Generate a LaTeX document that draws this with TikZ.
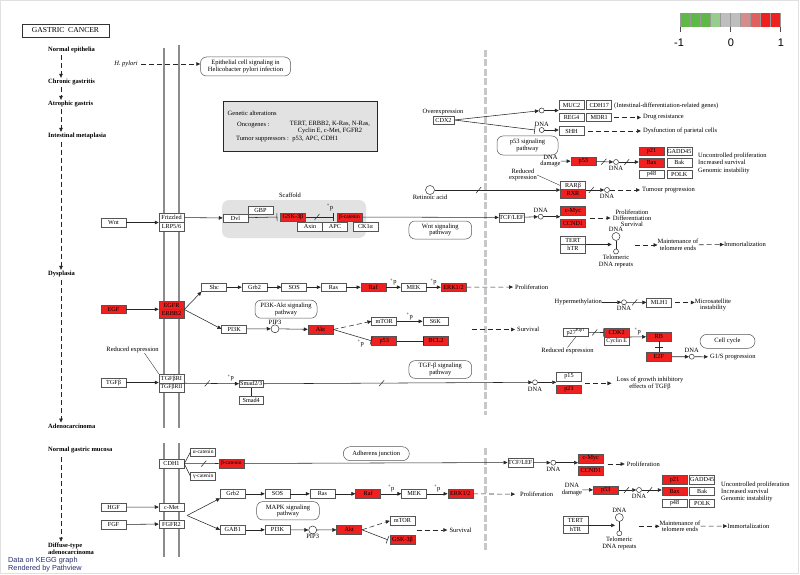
\documentclass[tikz,border=0pt]{standalone}
\usepackage{amsmath,amssymb}
\usepackage{fontspec}
\setmainfont{Liberation Serif}
\newfontfamily\pvfont{Liberation Sans}
\usetikzlibrary{arrows.meta,decorations.markings}
\definecolor{keggred}{RGB}{238,32,32}
\definecolor{boxline}{RGB}{85,85,85}
\definecolor{membr}{RGB}{140,140,140}
\definecolor{nucl}{RGB}{200,200,200}
\definecolor{scaf}{RGB}{226,226,226}
\definecolor{pvblue}{RGB}{35,45,105}
\definecolor{lg1}{RGB}{95,185,70}
\definecolor{lg2}{RGB}{150,205,140}
\definecolor{lgg}{RGB}{190,190,190}
\definecolor{lr1}{RGB}{215,140,140}
\definecolor{lr2}{RGB}{225,95,95}

\begin{document}
\begin{tikzpicture}[x=1pt,y=-1pt,>={Triangle[length=4pt,width=3.6pt]},font=\fontsize{6.5}{6.7}\selectfont]
\tikzstyle{gene} = [rectangle, draw=boxline, fill=white, line width=.5pt, minimum width=25pt, minimum height=8.5pt, inner sep=0pt, text centered, font=\fontsize{6.2}{6.5}\selectfont]
\tikzstyle{hit} = [gene, fill=keggred]
\tikzstyle{pway} = [rectangle, rounded corners=6pt, draw=boxline, fill=white, line width=.5pt, align=center, inner sep=0pt]
\tikzstyle{dot} = [circle, draw=black!80, fill=white, line width=.5pt, minimum size=5pt, inner sep=0pt]
\tikzstyle{cpd} = [circle, draw=black!80, fill=white, line width=.5pt, minimum size=9pt, inner sep=0pt]
\tikzstyle{stage} = [anchor=west, font=\fontsize{6.5}{6.7}\selectfont\bfseries, inner sep=0pt]
\tikzstyle{txt} = [inner sep=0pt, align=center]
\tikzstyle{lbl} = [anchor=west, inner sep=0pt, align=left]
\tikzstyle{link} = [line width=.55pt, draw=black!85]
\tikzstyle{dashlink} = [link, dash pattern=on 5pt off 3pt]
\tikzstyle{membrane} = [draw=membr, line width=1.8pt]
\tikzstyle{nuc} = [draw=nucl, line width=3.2pt, dash pattern=on 7pt off 2.5pt]
\tikzstyle{indirect} = [postaction={decorate,decoration={markings,mark=at position #1 with {\draw[solid,-,line width=.5pt] (-2.5pt,-3pt) -- (2.5pt,3pt);}}}]
\tikzstyle{bindtick} = [postaction={decorate,decoration={markings,mark=at position .5 with {\draw[solid,-,line width=.5pt] (0pt,-4pt) -- (0pt,4pt);}}}]
\tikzstyle{inh} = [link, -{Bar[width=8pt]}]

\useasboundingbox (0,0) rectangle (800,575);
\draw[black!12] (0.5,0.5) rectangle (798,573);

\node[draw=black!80, line width=.7pt, minimum width=87pt, minimum height=13pt, inner sep=0pt, font=\fontsize{7.6}{7.6}\selectfont] (title) at (65.5,30.5) {GASTRIC\ \ CANCER};

\foreach \c [count=\i from 0] in {lg1,lg1,lg1,lg2,lgg,lgg,lr1,lr2,keggred,keggred}
  \fill[\c] (680+10*\i,13) rectangle ++(10,14);
\foreach \i in {0,...,10}
  \draw[black!40, line width=.4pt] (680+10*\i,13) -- (680+10*\i,27);
\foreach \i in {0,5,10}
  \draw[black!70, line width=.5pt] (680+10*\i,27) -- (680+10*\i,32);
\node[font=\pvfont\fontsize{11}{11}\selectfont, inner sep=0pt] (lmin) at (679,43) {-1};
\node[font=\pvfont\fontsize{11}{11}\selectfont, inner sep=0pt] (lmid) at (731,43) {0};
\node[font=\pvfont\fontsize{11}{11}\selectfont, inner sep=0pt] (lmax) at (781,43) {1};

\draw[membrane] (164,48) -- (164,428);
\draw[membrane] (179,45) -- (179,428);
\draw[membrane] (164,443) -- (164,557);
\draw[membrane] (179,443) -- (179,557);
\draw[nuc] (485.5,50) -- (485.5,415);
\draw[nuc] (485.5,448) -- (485.5,552);

\node[stage] (ne) at (48,50) {Normal epithelia};
\node[stage] (cg) at (48,82) {Chronic gastritis};
\node[stage] (ag) at (48,104) {Atrophic gastris};
\node[stage] (im) at (48,136) {Intestinal metaplasia};
\node[stage] (dy) at (48,274) {Dysplasia};
\node[stage] (ac) at (48,426) {Adenocarcinoma};
\node[stage] (ngm) at (48,450) {Normal gastric mucosa};
\node[stage, align=left] (dta) at (48,548.5) {Diffuse-type\\adenocarcinoma};
\draw[dashlink,->] ([xshift=13pt,yshift=-2pt]ne.south west) -- ([xshift=13pt,yshift=1pt]cg.north west);
\draw[dashlink,->] ([xshift=13pt,yshift=-2pt]cg.south west) -- ([xshift=13pt,yshift=1pt]ag.north west);
\draw[dashlink,->] ([xshift=13pt,yshift=-2pt]ag.south west) -- ([xshift=13pt,yshift=1pt]im.north west);
\draw[dashlink,->] ([xshift=13pt,yshift=-3pt]im.south west) -- ([xshift=13pt,yshift=1pt]dy.north west);
\draw[dashlink,->] ([xshift=13pt,yshift=-3pt]dy.south west) -- ([xshift=13pt,yshift=1pt]ac.north west);
\draw[dashlink,->] ([xshift=13pt,yshift=-4pt]ngm.south west) -- ([xshift=13pt,yshift=1pt]dta.north west);

\node[font=\fontsize{6.5}{6.7}\selectfont\itshape, inner sep=0pt] (hp) at (126,64) {H. pylori};
\node[pway, minimum width=90pt, minimum height=19pt] (epi) at (245.5,66.5) {Epithelial cell signaling in\\Helicobacter pylori infection};
\draw[dashlink,->,shorten <=3pt] (hp.east) -- (hp.east -| epi.west);

\node[draw=black!85, line width=.9pt, fill=scaf, minimum width=154pt, minimum height=50pt, inner sep=0pt] (gen) at (300,126) {};
\node[lbl] (gen1) at (227.5,113) {Genetic alterations};
\node[lbl] (gen2) at (237,124.7) {Oncogenes :};
\node[txt] (gen3) at (330,127.8) {TERT, ERBB2, K-Ras, N-Ras,\\Cyclin E, c-Met, FGFR2};
\node[lbl] (gen4) at (236,139.3) {Tumor suppressors :\ \ p53, APC, CDH1};

\node[rectangle, rounded corners=7pt, fill=scaf, minimum width=144pt, minimum height=38pt] (scaffold) at (294,219) {};
\node[txt] (scaflab) at (290,195) {Scaffold};
\node[gene] (wnt) at (113.5,222.5) {Wnt};
\node[gene, minimum height=9pt] (fzd) at (171.5,217.5) {Frizzled};
\node[gene, minimum height=9pt] (lrp) at (171.5,226.5) {LRP5/6};
\node[gene] (dvl) at (235.5,218) {Dvl};
\node[gene] (gbp) at (260.5,210) {GBP};
\node[hit] (gsk) at (293,217) {GSK-3β};
\node[hit, font=\fontsize{5.5}{6}\selectfont] (bcat) at (349.5,217) {β-catenin};
\node[gene] (axin) at (310,226.5) {Axin};
\node[gene] (apc) at (335,226.5) {APC};
\node[gene] (ck1) at (365.5,226.5) {CK1α};
\node[gene] (tcf) at (511.5,217.5) {TCF/LEF};
\node[pway, minimum width=62.7pt, minimum height=18pt] (wntpw) at (440.3,230) {Wnt signaling\\pathway};
\draw[link,->] (wnt) -- (wnt -| fzd.west);
\draw[link,->] (fzd) -- (dvl);
\draw[inh] (dvl) -- ([xshift=-3pt]gsk.west);
\draw[inh,indirect=.4] (gsk) -- ([xshift=-3pt]bcat.west);
\node[txt] (pbcat) at (330,207.5) {\textsuperscript{+}p};
\draw[link,->] (bcat) -- (tcf);
\node[dot, label={[txt,yshift=1.5pt]above:DNA}] (dna1) at (540.7,216.7) {};
\draw[link,->] (tcf) -- (dna1);
\node[hit] (myc) at (573,210.8) {c-Myc};
\node[hit] (ccnd) at (573,223) {CCND1};
\draw[link,->] (dna1) -- (dna1 -| myc.west);
\node[txt, font=\fontsize{6.5}{6.2}\selectfont] (prolif1) at (632,218) {Proliferation\\Differentiation\\Survival};
\draw[dashlink,->,shorten <=4pt,shorten >=2pt] (prolif1.west -| ccnd.east) -- (prolif1.west);

\node[gene] (tert) at (573,240) {TERT};
\node[gene] (htr) at (573,248.5) {hTR};
\node[circle, draw=black!80, line width=.5pt, minimum size=8pt, inner sep=0pt, label={[txt,yshift=.5pt]above:DNA}] (loop1) at (616,236.5) {};
\node[dot, label={[txt,yshift=-1pt]below:{Telomeric\\DNA repeats}}] (rep1) at (616,251.5) {};
\draw[link] (loop1) -- (rep1);
\draw[link,->] (tert.south east) -- (tert.south east -| loop1.west);
\node[txt] (maint1) at (678,245) {Maintenance of\\telomere ends};
\node[txt] (immo1) at (745,244.3) {Immortalization};
\draw[dashlink,->,shorten <=15pt] (loop1.east |- maint1.west) -- (maint1.west);
\draw[dashlink,->] (maint1) -- (immo1);

\node[gene, minimum width=21pt, minimum height=8pt] (cdx2) at (443.5,120) {CDX2};
\node[txt] (ovexp) at (443,112) {Overexpression};
\node[dot] (dna2) at (541.7,110.5) {};
\node[dot, label={[txt,yshift=1pt]above:DNA}] (dna3) at (541.7,130) {};
\draw[link,->] (cdx2.east) -- (dna2);
\draw[inh] (cdx2.east) -- ([xshift=-4pt]dna3.west);
\node[gene] (muc2) at (571.5,105) {MUC2};
\node[gene] (cdh17) at (599.2,105) {CDH17};
\node[gene] (reg4) at (571.5,117.5) {REG4};
\node[gene] (mdr1) at (599.2,117.5) {MDR1};
\node[gene] (shh) at (571.5,131) {SHH};
\draw[link,->] (dna2) -- (dna2 -| muc2.west);
\draw[link,->] (dna3) -- (dna3 -| shh.west);
\node[lbl] (idr) at (614,106) {(Intestinal-differentiation-related genes)};
\node[lbl] (drug) at (643,117.5) {Drug resistance};
\node[lbl] (dysf) at (643,131) {Dysfunction of parietal cells};
\draw[dashlink,->,shorten <=2pt,shorten >=2pt] (mdr1) -- (drug);
\draw[dashlink,->,shorten <=4pt,shorten >=2pt] (shh) -- (dysf);

\node[pway, minimum width=61pt, minimum height=19pt] (p53pw) at (527.5,145.5) {p53 signaling\\pathway};
\node[txt] (dmg1) at (550.5,161) {DNA\\damage};
\node[hit] (p53a) at (583.3,161.3) {p53};
\draw[link,->] (dmg1) -- (p53a);
\node[dot, label={[txt,yshift=-1pt]below:DNA}] (dna4) at (616,162) {};
\draw[link,->,indirect=.45] (p53a) -- (dna4);
\node[hit] (p21a) at (651.5,151) {p21};
\node[hit] (baxa) at (651.5,162.5) {Bax};
\node[gene] (p48a) at (651.5,174) {p48};
\node[gene] (gadda) at (679.3,151) {GADD45};
\node[gene] (baka) at (679.3,162.5) {Bak};
\node[gene] (polka) at (679.3,174) {POLK};
\draw[link,->,indirect=.4] (dna4) -- (dna4 -| baxa.west);
\node[lbl, font=\fontsize{6.5}{7.3}\selectfont] (unc1) at (698,163.3) {Uncontrolled proliferation\\Increased survival\\Genomic instability};

\node[txt] (redexp1) at (523,175) {Reduced\\expression};
\node[gene] (rarb) at (573,185.5) {RARβ};
\node[hit] (rxr) at (573,193.8) {RXR};
\draw[link, line width=.35pt] (redexp1.east) -- (rarb.west);
\node[cpd, label={[txt]below:Retinoic acid}] (ra) at (430,190) {};
\draw[link,->,indirect=.35] (ra) -- (ra -| rarb.west);
\node[dot, label={[txt,yshift=-1pt]below:DNA}] (dna5) at (607,190) {};
\draw[link,->,indirect=.3] (dna5 -| rxr.east) -- (dna5);
\node[lbl] (tumour) at (642,190) {Tumour progression};
\draw[dashlink,->,shorten >=2pt] (dna5) -- (tumour);

\node[hit] (egf) at (113.5,309.3) {EGF};
\node[hit] (egfr) at (171.5,305) {EGFR};
\node[hit] (erbb2) at (171.5,313.5) {ERBB2};
\draw[link,->] (egf) -- (egf -| egfr.west);
\node[gene] (shc) at (214.2,287.2) {Shc};
\node[gene] (grb2a) at (254.5,287.2) {Grb2};
\node[gene] (sosa) at (294.2,287.2) {SOS};
\node[gene] (rasa) at (333.5,287.2) {Ras};
\node[hit] (rafa) at (373.3,287.2) {Raf};
\node[gene] (meka) at (413.5,287.2) {MEK};
\node[hit] (erka) at (453.5,287.2) {ERK1/2};
\draw[link,->] (egfr.south east) -- (shc.south west);
\draw[link,->] (shc) -- (grb2a);
\draw[link,->] (grb2a) -- (sosa);
\draw[link,->] (sosa) -- (rasa);
\draw[link,->] (rasa) -- (rafa);
\draw[link,->] (rafa) -- (meka) node[txt, midway, above=2pt] (pmeka) {\textsuperscript{+}p};
\draw[link,->] (meka) -- (erka) node[txt, midway, above=2pt] (perka) {\textsuperscript{+}p};
\node[lbl] (prolifa) at (515,287) {Proliferation};
\draw[dashlink,->,shorten >=2pt] (erka) -- (prolifa);

\node[pway, minimum width=62pt, minimum height=18pt] (pi3kpw) at (286,309.2) {PI3K-Akt signaling\\pathway};
\node[gene] (pi3ka) at (234.2,329) {PI3K};
\draw[link,->] (egfr.south east) -- (pi3ka.west);
\node[cpd, minimum size=8pt, label={[txt]above:PIP3}] (pip3a) at (275,328.8) {};
\node[hit] (akta) at (320.5,329.5) {Akt};
\draw[link,->] (pi3ka) -- (pip3a);
\draw[link,->] (pip3a) -- (akta);
\node[gene] (mtora) at (384.2,321.3) {mTOR};
\node[gene] (s6k) at (435.3,321.3) {S6K};
\node[hit] (p53b) at (384.2,340.8) {p53};
\node[hit] (bcl2) at (436,340.8) {BCL2};
\draw[dashlink,->] (akta.east) -- (mtora.west);
\draw[inh] (akta.east) -- (p53b.west) node[txt, pos=.72, below=2pt] (pp53b) {\textsuperscript{+}p};
\draw[link,->] (mtora) -- (s6k) node[txt, midway, above=1.5pt] (ps6k) {\textsuperscript{+}p};
\draw[inh] (p53b) -- (bcl2.west);
\coordinate (survfrom) at (471.7,329.5);
\node[lbl] (surva) at (517,329.5) {Survival};
\draw[dashlink,->,shorten >=2pt] (survfrom) -- (surva);

\node[txt] (hyper) at (578.3,302.3) {Hypermethylation};
\node[dot, label={[txt,yshift=-1pt]below:DNA}] (dna6) at (624,302.3) {};
\node[gene] (mlh1) at (659.2,302.5) {MLH1};
\draw[link,->] (hyper) -- (dna6);
\draw[link,->,indirect=.4] (dna6) -- (mlh1);
\node[txt] (msi) at (713,305) {Microsatellite\\instability};
\draw[dashlink,->,shorten <=3pt] (mlh1) -- (msi.west |- mlh1);

\node[gene] (p27) at (575.8,332.3) {p27\textsuperscript{Kip1}};
\node[hit] (cdk2) at (616.7,332.5) {CDK2};
\node[gene, font=\fontsize{5.8}{6}\selectfont] (cyce) at (616.7,341) {Cyclin E};
\draw[inh,indirect=.4] (p27) -- (cdk2.west);
\node[hit] (rb) at (658.8,336.8) {RB};
\node[hit] (e2f) at (658.8,356.8) {E2F};
\draw[link,->] (cdk2.south east) -- (rb.west) node[txt, midway, above=2pt] (prb) {\textsuperscript{+}p};
\draw[link,bindtick] (rb) -- (e2f);
\node[dot, label={[txt,yshift=1pt]above:DNA}] (dna7) at (691.7,356.7) {};
\draw[link,->] (e2f) -- (dna7);
\node[lbl] (g1s) at (710,357) {G1/S progression};
\draw[link,->,shorten >=2pt] (dna7) -- (g1s);
\node[pway, minimum width=55pt, minimum height=14pt, rounded corners=7pt] (ccpw) at (727.5,341.3) {Cell cycle};
\node[txt] (redexp2) at (567.5,350.7) {Reduced expression};
\draw[link, line width=.35pt] (redexp2.north) -- (p27.south);

\node[gene] (tgfb) at (113.5,382.5) {TGFβ};
\node[gene, minimum height=9pt] (tgfbr1) at (171.5,378.5) {TGFβRI};
\node[gene, minimum height=9pt, font=\fontsize{5.8}{6}\selectfont] (tgfbr2) at (171.5,387.5) {TGFβRII};
\draw[link,->] (tgfb) -- (tgfb -| tgfbr1.west);
\node[txt] (redexp3) at (132.5,350) {Reduced expression};
\draw[link, line width=.35pt] ([xshift=12pt]redexp3.south) -- (tgfbr1.north west);
\node[gene, minimum width=24pt, minimum height=7.7pt] (smad23) at (251.2,383.8) {Smad2/3};
\node[gene, minimum width=24pt, minimum height=8.3pt] (smad4) at (251.2,400.2) {Smad4};
\draw[link,->,indirect=.42] (tgfbr1.south east) -- (smad23) node[txt, pos=.85, above=2pt] (psmad) {\textsuperscript{+}p};
\draw[link] (smad23) -- (smad4);
\node[dot, label={[txt,yshift=-1.5pt]below:DNA}] (dna8) at (535,382.3) {};
\draw[link,->,indirect=.44] (smad23) -- (dna8);
\node[gene] (p15) at (569,376.5) {p15};
\node[hit] (p21b) at (569,389.2) {p21};
\draw[link,->] (dna8) -- (dna8 -| p15.west);
\node[txt] (loss) at (650,383.3) {Loss of growth inhibitory\\effects of TGFβ};
\draw[dashlink,->,shorten <=3pt,shorten >=5pt] (loss.west -| p15.east) -- (loss.west);
\node[pway, minimum width=62.7pt, minimum height=17.6pt] (tgfpw) at (440.3,369.5) {TGF-β signaling\\pathway};

\node[gene] (cdh1) at (171.5,463.7) {CDH1};
\node[gene, minimum height=7.5pt, font=\fontsize{5.5}{6}\selectfont] (acat) at (203.2,452) {α-catenin};
\node[gene, minimum height=7.5pt, font=\fontsize{5.5}{6}\selectfont] (gcat) at (203.2,476.2) {γ-catenin};
\node[hit, font=\fontsize{5.5}{6}\selectfont] (bcatb) at (231.3,463.5) {β-catenin};
\draw[link] (cdh1.east) -- (acat.west);
\draw[link] (cdh1.east) -- (gcat.west);
\draw[link,indirect=.57] (cdh1.east) -- (bcatb.west);
\node[gene] (tcfb) at (520.3,462.5) {TCF/LEF};
\draw[link,->] (bcatb) -- (tcfb);
\node[pway, minimum width=66pt, minimum height=14pt, rounded corners=7pt] (adh) at (376.3,453.7) {Adherens junction};
\node[dot, label={[txt,yshift=-1.5pt]below:DNA}] (dna9) at (553.3,462.7) {};
\draw[link,->] (tcfb) -- (dna9);
\node[hit] (mycb) at (590.8,458.5) {c-Myc};
\node[hit] (ccndb) at (590.8,470.5) {CCND1};
\draw[link,->] (dna9) -- (dna9 -| mycb.west);
\node[lbl] (prolifb) at (626.7,464) {Proliferation};
\draw[dashlink,->,shorten <=4pt,shorten >=2pt] (prolifb.west -| ccndb.east) -- (prolifb.west);

\node[gene] (hgf) at (113.5,507.2) {HGF};
\node[gene] (fgf) at (113.5,524.5) {FGF};
\node[gene] (cmet) at (171.5,507) {c-Met};
\node[gene] (fgfr2) at (171.5,524) {FGFR2};
\draw[link,->] (hgf) -- (cmet);
\draw[link,->] (fgf) -- (fgfr2);
\coordinate (rtk) at (187,515.5);
\node[gene] (grb2b) at (232.8,493.8) {Grb2};
\node[gene] (gab1) at (232.8,529.8) {GAB1};
\draw[link,->] (rtk) -- (grb2b.south west);
\draw[link,->] (rtk) -- (gab1.west);
\node[gene] (sosb) at (277.5,493.8) {SOS};
\node[gene] (rasb) at (322.5,493.8) {Ras};
\node[hit] (rafb) at (368.2,493.8) {Raf};
\node[gene] (mekb) at (414.2,493.8) {MEK};
\node[hit] (erkb) at (460.3,493.8) {ERK1/2};
\draw[link,->] (grb2b) -- (sosb);
\draw[link,->] (sosb) -- (rasb);
\draw[link,->] (rasb) -- (rafb);
\draw[link,->] (rafb) -- (mekb) node[txt, midway, above=2pt] (pmekb) {\textsuperscript{+}p};
\draw[link,->] (mekb) -- (erkb) node[txt, midway, above=2pt] (perkb) {\textsuperscript{+}p};
\node[lbl] (prolifc) at (520,494.3) {Proliferation};
\draw[dashlink,->,shorten >=5pt] (erkb) -- (prolifc);
\node[pway, minimum width=62.6pt, minimum height=18.3pt] (mapkpw) at (288,510.8) {MAPK signaling\\pathway};
\node[gene] (pi3kb) at (277.5,529.8) {PI3K};
\node[cpd, minimum size=8pt, label={[txt]below:PIP3}] (pip3b) at (312.7,530) {};
\node[hit] (aktb) at (349.2,529.8) {Akt};
\node[gene] (mtorb) at (402.5,520.8) {mTOR};
\node[hit] (gskb) at (402.5,539.8) {GSK-3β};
\draw[link,->] (gab1) -- (pi3kb);
\draw[link,->] (pi3kb) -- (pip3b);
\draw[link,->] (pip3b) -- (aktb);
\draw[dashlink,->] (aktb.east) -- (mtorb.west);
\draw[inh] (aktb.east) -- ([xshift=-2pt]gskb.west);
\coordinate (survfromb) at (416.7,530);
\node[lbl] (survb) at (449.3,530) {Survival};
\draw[dashlink,->,shorten >=2pt] (survfromb) -- (survb);

\node[txt] (dmg2) at (572,489.7) {DNA\\damage};
\node[hit] (p53c) at (605.8,490) {p53};
\draw[link,->] (dmg2) -- (p53c);
\node[dot, label={[txt,yshift=-1pt]below:DNA}] (dna10) at (639,490) {};
\draw[link,->,indirect=.45] (p53c) -- (dna10);
\node[hit] (p21c) at (674.5,479.8) {p21};
\node[hit] (baxb) at (674.5,491.3) {Bax};
\node[gene] (p48b) at (674.5,503.2) {p48};
\node[gene] (gaddb) at (702.2,479.8) {GADD45};
\node[gene] (bakb) at (702.2,491.3) {Bak};
\node[gene] (polkb) at (702.2,503.2) {POLK};
\draw[link,->,indirect=.4] (dna10) -- (dna10 -| baxb.west);
\node[lbl, font=\fontsize{6.5}{7}\selectfont] (unc2) at (721,492) {Uncontrolled proliferation\\Increased survival\\Genomic instability};

\node[gene] (tertb) at (575.5,520.8) {TERT};
\node[gene] (htrb) at (575.5,529.2) {hTR};
\node[circle, draw=black!80, line width=.5pt, minimum size=8pt, inner sep=0pt, label={[txt,yshift=.5pt]above:DNA}] (loop2) at (619.3,517.5) {};
\node[dot, label={[txt,yshift=-1pt]below:{Telomeric\\DNA repeats}}] (rep2) at (619.3,533.3) {};
\draw[link] (loop2) -- (rep2);
\draw[link,->] (tertb.south east) -- (tertb.south east -| loop2.west);
\node[txt] (maint2) at (680,526.3) {Maintenance of\\telomere ends};
\node[txt] (immo2) at (748.3,526) {Immortalization};
\draw[dashlink,->,shorten <=15pt] (loop2.east |- maint2.west) -- (maint2.west);
\draw[dashlink,->] (maint2) -- (immo2);

\node[anchor=west, inner sep=0pt, font=\pvfont\fontsize{7.3}{7.3}\selectfont, text=pvblue] (kegg) at (8,561) {Data on KEGG graph};
\node[anchor=west, inner sep=0pt, font=\pvfont\fontsize{7.3}{7.3}\selectfont, text=pvblue] (pathview) at (8,569) {Rendered by Pathview};
\end{tikzpicture}
\end{document}
